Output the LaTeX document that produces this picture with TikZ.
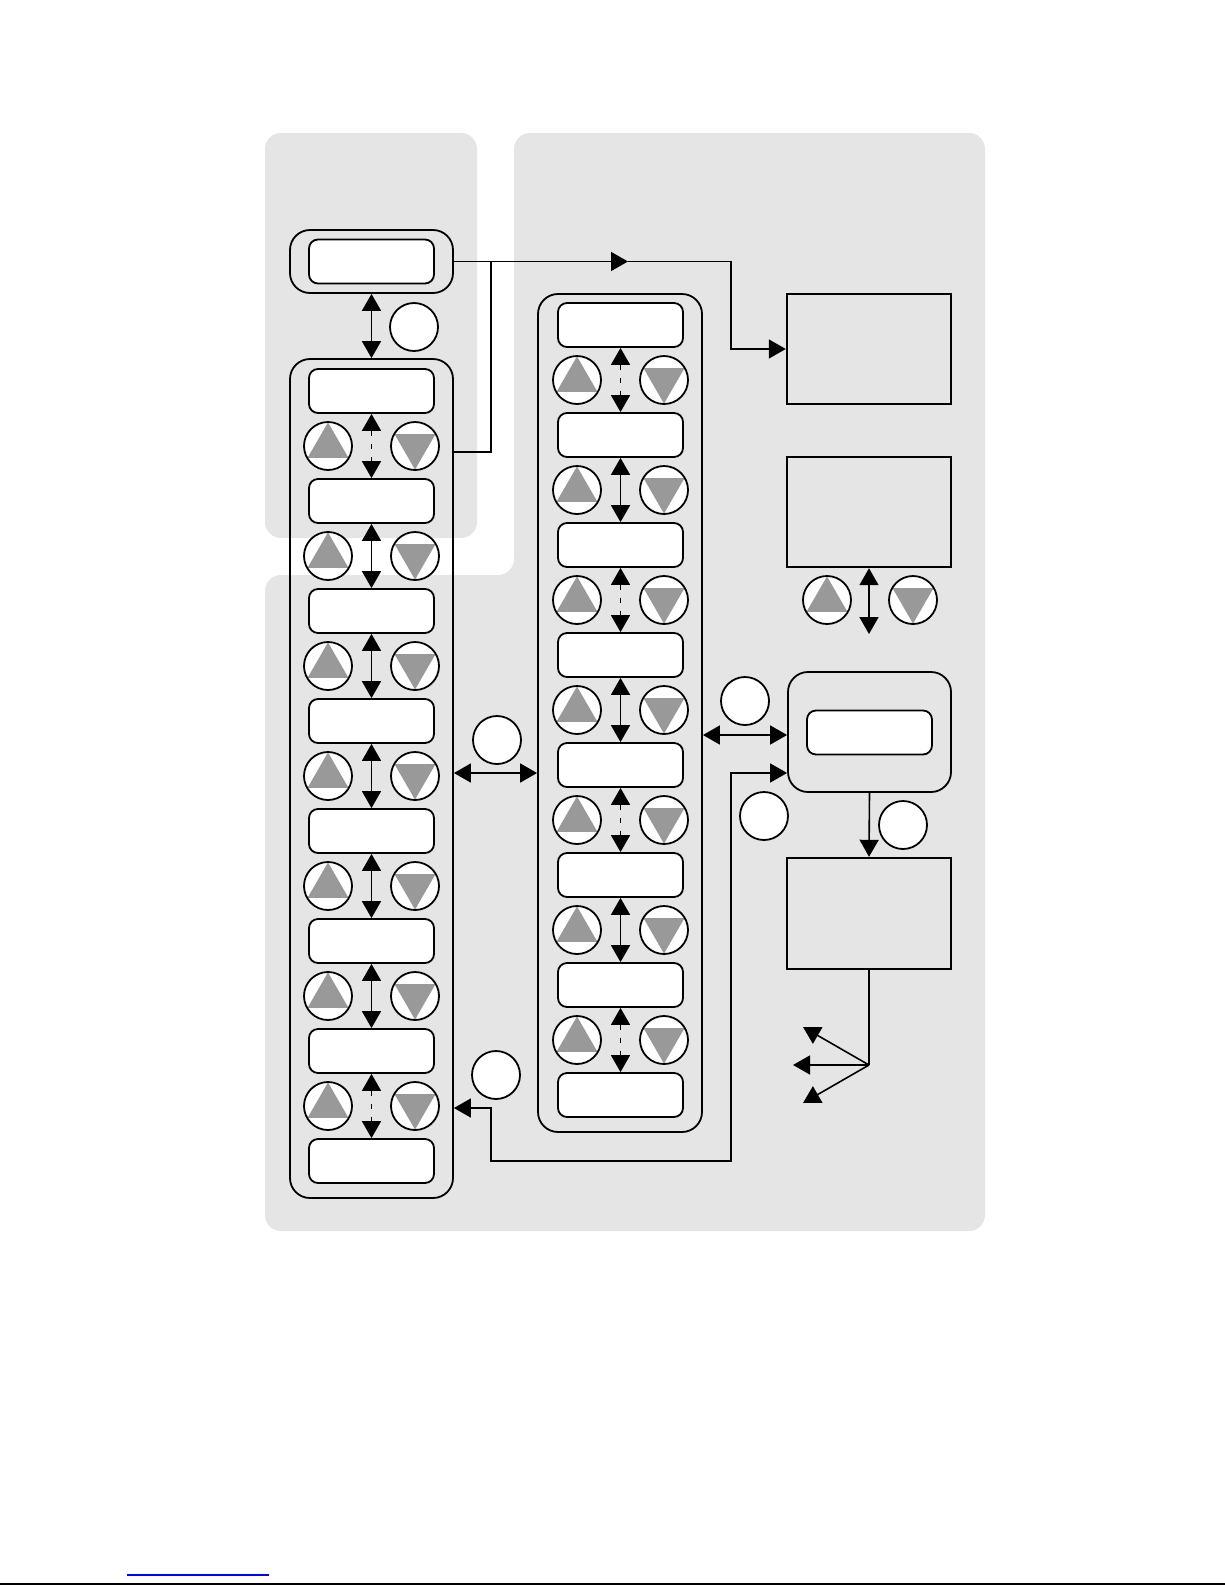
\documentclass[tikz,border=0pt]{standalone}
\usetikzlibrary{arrows.meta,calc}
\definecolor{bgg}{RGB}{229,229,229}
\definecolor{trig}{RGB}{153,153,153}
\definecolor{linkblue}{RGB}{0,0,255}
\begin{document}
\begin{tikzpicture}[x=0.5pt,y=-0.5pt,
  tipA/.tip={Triangle[length=8.5pt,width=9.5pt]},
  ln/.style={line width=0.8pt},
  ar/.style={ln,-tipA},
  dar/.style={ln,tipA-tipA},
  dsh/.style={dash pattern=on 2.5pt off 4pt},
  sol/.style={},
  scr/.style={draw,line width=0.9pt,fill=white,rounded corners=4.5pt,minimum width=62.5pt,minimum height=22pt,inner sep=0pt},
  colbox/.style={draw,line width=0.9pt,rounded corners=10pt,inner sep=0pt},
  panel/.style={draw,line width=1.2pt,inner sep=0pt,minimum width=82pt,minimum height=55pt},
  badge/.style={circle,draw,fill=white,line width=0.9pt,minimum size=24pt,inner sep=0pt},
  upb/.style={badge,path picture={\fill[trig] ($(path picture bounding box.center)+(90:11.8pt)$) -- ($(path picture bounding box.center)+(210:11.8pt)$) -- ($(path picture bounding box.center)+(330:11.8pt)$) -- cycle;}},
  dnb/.style={badge,path picture={\fill[trig] ($(path picture bounding box.center)+(270:11.8pt)$) -- ($(path picture bounding box.center)+(30:11.8pt)$) -- ($(path picture bounding box.center)+(150:11.8pt)$) -- cycle;}}
]
\useasboundingbox (0,0) rectangle (1225,1585);
% grey backgrounds
\fill[bgg,rounded corners=8pt] (265,133) rectangle (477,538);
\fill[bgg,rounded corners=8pt] (265,575) -- (514,575) -- (514,133) -- (985,133) -- (985,1231) -- (265,1231) -- cycle;

% helper coordinates
\coordinate (jx) at (491,0);
\coordinate (kx) at (731,0);
\coordinate (yb) at (0,452);
\coordinate (y773) at (0,773);
\coordinate (y735) at (0,735);
\coordinate (y1108) at (0,1108);

% top node
\node[colbox,minimum width=81.5pt,minimum height=31.5pt] (topo) at (371.5,261.5) {};
\node[scr] (topi) at (371.5,261.5) {};

% left column
\node[colbox,minimum width=81.5pt,minimum height=419.5pt] (Lcol) at (371.5,778.5) {};
\foreach \i in {1,...,8}{
  \node[scr] (L\i) at (371.5,{391+(\i-1)*110}) {};
}
\foreach \i in {1,...,7}{
  \node[upb] (LU\i) at (328,{446+(\i-1)*110}) {};
  \node[dnb] (LD\i) at (415,{446+(\i-1)*110}) {};
}
\foreach \i/\j/\st in {1/2/dsh,2/3/sol,3/4/sol,4/5/sol,5/6/sol,6/7/sol,7/8/dsh}{
  \draw[dar,\st] (L\i.south) -- (L\j.north);
}

% middle column
\node[colbox,minimum width=82pt,minimum height=419pt] (Mcol) at (620,713) {};
\foreach \i in {1,...,8}{
  \node[scr] (M\i) at (620.5,{325+(\i-1)*110}) {};
}
\foreach \i in {1,...,7}{
  \node[upb] (MU\i) at (577,{380+(\i-1)*110}) {};
  \node[dnb] (MD\i) at (664,{380+(\i-1)*110}) {};
}
\foreach \i/\j/\st in {1/2/dsh,2/3/sol,3/4/dsh,4/5/sol,5/6/dsh,6/7/sol,7/8/dsh}{
  \draw[dar,\st] (M\i.south) -- (M\j.north);
}

% right side
\node[panel] (A) at (869,349) {};
\node[panel] (B) at (869,512) {};
\node[upb] (BU) at (827,600) {};
\node[dnb] (BD) at (913,600) {};
\coordinate (bend) at (869,634);
\draw[dar] (B.south) -- (bend);

\node[colbox,minimum width=81.5pt,minimum height=60pt] (Co) at (869.5,732) {};
\node[scr] (Ci) at (869.5,732.5) {};
\node[panel,minimum height=55.5pt] (D) at (869,913.5) {};

% label circles
\node[badge] (c1) at (414,327) {};
\node[badge] (c2) at (497,740) {};
\node[badge] (c3) at (745,701) {};
\node[badge] (c4) at (764,816) {};
\node[badge] (c5) at (496,1075) {};
\node[badge] (c6) at (903,825) {};

% connectors
\draw[dar] (topo.south) -- (Lcol.north);
\coordinate (mid1) at (628,261.5);
\draw[ar] (topo.east) -- (mid1);
\draw[ar] (mid1) -| (A.west -| kx) -- (A.west);
\draw[ln] (topo.east -| jx) |- (Lcol.east |- yb);
\draw[dar] (Lcol.east |- y773) -- (Mcol.west |- y773);
\draw[dar] (Mcol.east |- y735) -- (Co.west |- y735);
\coordinate (yfb) at (0,1161);
\draw[dar] (Lcol.east |- y1108) -| (jx |- yfb) -| (kx |- y773) -- (Co.west |- y773);
\draw[ar] (Co.south) -- (D.north);

\coordinate (fan) at (869,1065);
\coordinate (f1) at (803,1027);
\coordinate (f2) at (793,1065);
\coordinate (f3) at (803,1103);
\draw[ln] (D.south) -- (fan);
\draw[ar] (fan) -- (f1);
\draw[ar] (fan) -- (f2);
\draw[ar] (fan) -- (f3);

% page footer lines
\draw[linkblue,line width=1pt] (127,1575) -- (269,1575);
\draw[line width=1pt] (0,1583.5) -- (1225,1583.5);
\end{tikzpicture}
\end{document}
